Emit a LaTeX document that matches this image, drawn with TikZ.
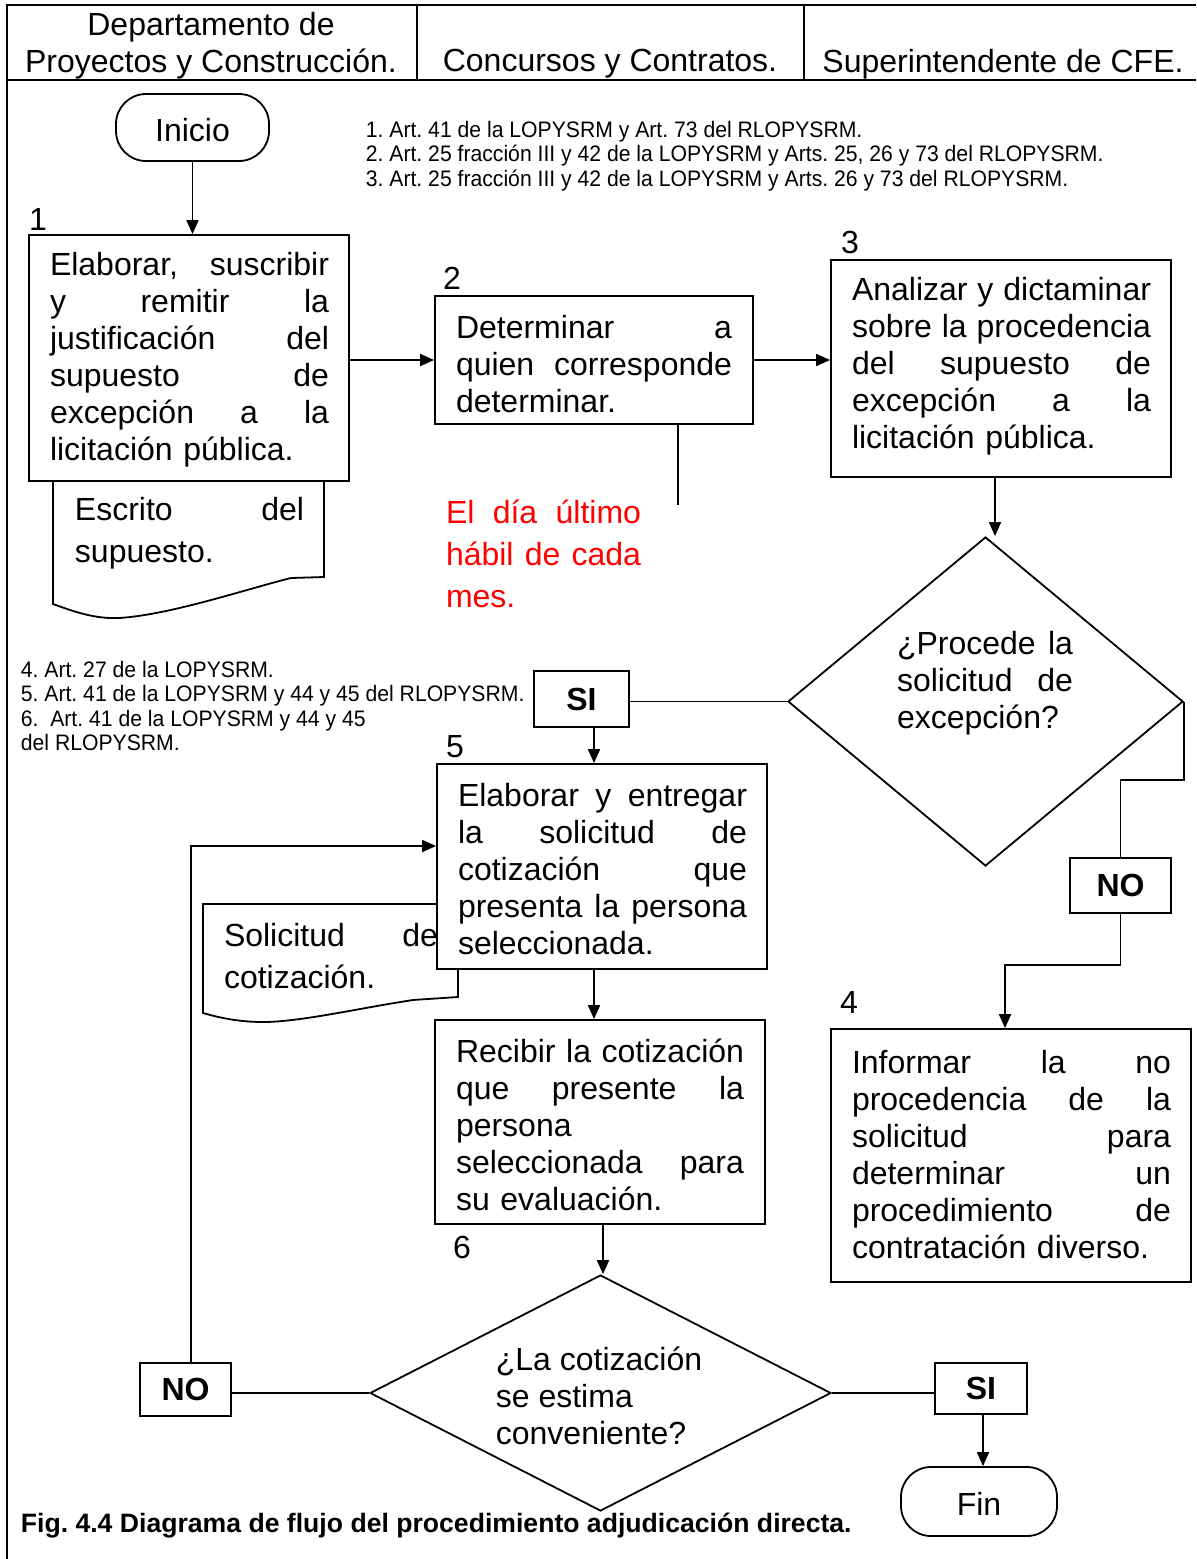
\documentclass[tikz,border=0pt]{standalone}
\usepackage{fontspec}
\setmainfont{Liberation Sans}
\newfontfamily\notefont[FakeStretch=0.945]{Liberation Sans}
\usetikzlibrary{arrows.meta,shapes.geometric}
% one justified line: the word spaces share the spare width equally
\newcommand\jl[1]{\leavevmode\hbox to\hsize{\spaceskip=0.278em plus 1fil\relax #1}}

\begin{document}
\frenchspacing
\begin{tikzpicture}[x=0.5pt,y=-0.5pt,
  line width=0.9pt,
  box/.style={draw,fill=white,inner sep=0pt,rectangle},
  term/.style={draw,fill=white,rounded corners=15pt,inner sep=0pt,text depth=0pt,font=\fontsize{16}{18.5}\selectfont},
  dia/.style={draw,fill=white,diamond,inner sep=0pt},
  lbl/.style={draw,fill=white,inner sep=0pt,font=\fontsize{16}{18.5}\bfseries\selectfont},
  txt/.style={inner sep=0pt,align=left,font=\fontsize{16}{18.5}\selectfont},
  loose/.style={inner sep=0pt,align=left,font=\fontsize{16}{21}\selectfont},
  note/.style={inner sep=0pt,align=left,anchor=west,font=\notefont\fontsize{11.2}{12.25}\selectfont},
  num/.style={inner sep=0pt,font=\fontsize{16}{18.5}\selectfont},
  arr/.style={-{Triangle[length=7pt,width=6pt]}},
  frame/.style={line width=1.3pt}]

\useasboundingbox (0,0) rectangle (1196,1559);

% swim-lane header
\draw[frame] (7,1559) -- (7,5) -- (1196,5);
\draw[frame] (7,80) -- (1196,80);
\draw[frame] (417,5) -- (417,80);
\draw[frame] (804,5) -- (804,80);
\node[txt,align=center] (h1) at (211,46) {Departamento de\\Proyectos y Construcción.};
\node[txt] (h2) at (610,64) {Concursos y Contratos.};
\node[txt] (h3) at (1003,64) {Superintendente de CFE.};

% legal references
\node[note] (n13) at (365,156) {1. Art. 41 de la LOPYSRM y Art. 73 del RLOPYSRM.\\
2. Art. 25 fracción III y 42 de la LOPYSRM y Arts. 25, 26 y 73 del RLOPYSRM.\\
3. Art. 25 fracción III y 42 de la LOPYSRM y Arts. 26 y 73 del RLOPYSRM.};
\node[note] (n46) at (20,706) {4. Art. 27 de la LOPYSRM.\\
5. Art. 41 de la LOPYSRM y 44 y 45 del RLOPYSRM.\\
6.~ Art. 41 de la LOPYSRM y 44 y 45\\
del RLOPYSRM.};

% start
\node[term,minimum width=76.5pt,minimum height=33.5pt,text height=14pt] (ini) at (192.5,127.5) {Inicio};

% step 1 and its document
\draw[fill=white] (53,481) -- (53,604) .. controls (75,612) and (95,619) .. (119,618)
  .. controls (170,615) and (250,588) .. (291,578) -- (324,577) -- (324,481);
\node[loose,text width=114.5pt] (doc1) at (189.5,533) {\jl{Escrito del}\\supuesto.};
\node[box,minimum width=160pt,minimum height=123pt] (b1) at (189,358) {};
\node[txt,text width=139.5pt] (t1) at (189.5,360) {\jl{Elaborar, suscribir}\\\jl{y remitir la}\\
\jl{justificación del}\\\jl{supuesto de}\\\jl{excepción a la}\\licitación pública.};
\node[num] (k1) at (38,219) {1};

% step 2
\node[box,minimum width=159pt,minimum height=64pt] (b2) at (594,360) {};
\node[txt,text width=138pt] (t2) at (594,364) {\jl{Determinar a}\\\jl{quien corresponde}\\determinar.};
\node[num] (k2) at (452,278) {2};
\node[loose,text width=97.5pt,text=red] (red) at (543.5,554) {\jl{El día último}\\\jl{hábil de cada}\\mes.};

% step 3
\node[box,minimum width=170pt,minimum height=108.5pt] (b3) at (1001,368.5) {};
\node[txt,text width=149.5pt] (t3) at (1001.5,366) {\jl{Analizar y dictaminar}\\\jl{sobre la procedencia}\\
\jl{del supuesto de}\\\jl{excepción a la}\\licitación pública.};
\node[num] (k3) at (850,242) {3};

% first decision
\node[dia,minimum width=197.5pt,minimum height=164.5pt] (d1) at (985.5,701.5) {};
\node[txt,text width=88pt] (td1) at (985,683) {\jl{¿Procede la}\\\jl{solicitud de}\\excepción?};
\node[lbl,minimum width=47.5pt,minimum height=28pt] (si1) at (581.5,699) {SI};
\node[lbl,minimum width=50.5pt,minimum height=27.5pt] (no1) at (1120.5,885.5) {NO};

% step 4
\node[box,minimum width=180pt,minimum height=126.5pt] (b4) at (1011,1155.5) {};
\node[txt,text width=159.5pt] (t4) at (1011.5,1154.5) {\jl{Informar la no}\\\jl{procedencia de la}\\
\jl{solicitud para}\\\jl{determinar un}\\\jl{procedimiento de}\\contratación diverso.};
\node[num] (k4) at (849,1002) {4};

% step 5 and its document
\draw[fill=white] (458,997) -- (413,1000) .. controls (360,1008) and (300,1022) .. (263,1022)
  .. controls (240,1022) and (220,1018) .. (203,1013) -- (203,904) -- (458,904) -- cycle;
\node[loose,text width=107pt] (doc2) at (331,956) {\jl{Solicitud de}\\cotización.};
\node[box,minimum width=165pt,minimum height=102.5pt] (b5) at (602,866.5) {};
\node[txt,text width=144.5pt] (t5) at (602.5,869) {\jl{Elaborar y entregar}\\\jl{la solicitud de}\\
\jl{cotización que}\\\jl{presenta la persona}\\seleccionada.};
\node[num] (k5) at (455,747) {5};

% step 6
\node[box,minimum width=165pt,minimum height=102pt] (b6) at (600,1122) {};
\node[txt,text width=144pt] (t6) at (600,1125) {\jl{Recibir la cotización}\\\jl{que presente la}\\
persona\\\jl{seleccionada para}\\su evaluación.};
\node[num] (k6) at (462,1247) {6};

% second decision
\node[dia,minimum width=230.5pt,minimum height=118pt] (d2) at (600.5,1393) {};
\node[txt,anchor=west] (td2) at (495,1396) {¿La cotización\\se estima\\conveniente?};
\node[lbl,minimum width=45.5pt,minimum height=26.5pt] (no2) at (185.5,1389.5) {NO};
\node[lbl,minimum width=46pt,minimum height=25.5pt] (si2) at (981,1388.5) {SI};

% end
\node[term,minimum width=78pt,minimum height=34.5pt,text height=13.5pt] (fin) at (979,1501.5) {Fin};

% caption
\node[inner sep=0pt,anchor=west,font=\fontsize{13.3}{16}\bfseries\selectfont] (cap) at (20,1526)
  {Fig. 4.4 Diagrama de flujo del procedimiento adjudicación directa.};

% connectors
\coordinate (hang) at (678,505);
\coordinate (c3) at (995,0);
\coordinate (c5) at (594,0);
\coordinate (c6) at (603,0);
\coordinate (cf) at (983,0);
\coordinate (lp) at (191,846);
\coordinate (j1) at (1183,780);
\coordinate (j2) at (1005,965);

\draw[arr] (ini.south) -- (ini.south |- b1.north);
\draw[arr] (b2.west -| b1.east) -- (b2.west);
\draw[arr] (b2.east) -- (b2.east -| b3.west);
\draw (hang |- b2.south) -- (hang);
\draw[arr] (c3 |- b3.south) -- (c3 |- d1.north);
\draw (d1.west) -- (d1.west -| si1.east);
\draw[arr] (c5 |- si1.south) -- (c5 |- b5.north);
\draw (d1.east) -- (d1.east |- j1) -| (no1.north);
\draw[arr] (no1.south) |- (j2) -- (j2 |- b4.north);
\draw[arr] (c5 |- b5.south) -- (c5 |- b6.north);
\draw[arr] (c6 |- b6.south) -- (c6 |- d2.north);
\draw (d2.west) -- (d2.west -| no2.east);
\draw[arr] (lp |- no2.north) -- (lp) -- (lp -| b5.west);
\draw (d2.east) -- (d2.east -| si2.west);
\draw[arr] (cf |- si2.south) -- (cf |- fin.north);

\end{tikzpicture}
\end{document}
